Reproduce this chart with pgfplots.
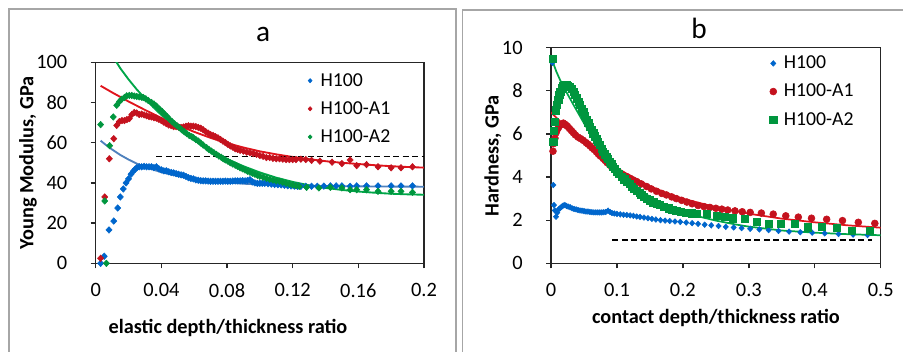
\documentclass[border=0pt]{standalone}
\usepackage{pgfplots}
\pgfplotsset{compat=1.18}
\usepackage{fontspec}
\setmainfont{Carlito}
\definecolor{cb}{RGB}{0,102,204}
\definecolor{cr}{RGB}{196,18,30}
\definecolor{cg}{RGB}{0,150,62}
\definecolor{fb}{RGB}{79,129,189}
\definecolor{fr}{RGB}{224,20,28}
\definecolor{fg}{RGB}{0,166,72}
\pgfplotsset{
  panel/.style={
    scale only axis,
    axis line style={black!85,line width=1.1pt},
    tick style={black!85,line width=1pt},
    major tick length=3.75pt,
    tick align=outside,
    xtick pos=bottom, ytick pos=left,
    /pgf/number format/assume math mode=true,
    tick label style={font=\fontsize{15.3}{18}\selectfont},
    yticklabel shift=14pt,
    xticklabel shift=8pt,
    label style={font=\fontsize{15.2}{18}\selectfont\bfseries},
    title style={font=\fontsize{22}{26}\selectfont},
    every axis title shift=0pt,
    legend cell align=left,
    legend style={draw=none,fill=none,font=\fontsize{14.8}{18}\selectfont,row sep=6pt,inner sep=0pt},
    legend image code/.code={\path (0cm,0cm) (0.3cm,0cm);\draw[mark repeat=2,mark phase=2] plot coordinates {(0cm,0cm)(0.1cm,0cm)(0.3cm,0cm)};},
    clip marker paths=false,
  },
  dia/.style={only marks, mark=diamond*, mark options={xscale=1.25}},
}
\begin{document}
\begin{tikzpicture}
\clip (0,0) rectangle (677.25pt,264pt);
\useasboundingbox (0,0) rectangle (677.25pt,264pt);
\draw[gray!70,line width=1.3pt] (6.75pt,-20pt) -- (6.75pt,257.25pt) -- (341.8pt,257.25pt) -- (341.8pt,-20pt);
\draw[gray!70,line width=1.3pt] (346.8pt,-20pt) -- (346.8pt,256.5pt) -- (700pt,256.5pt);

% ---------------- panel a ----------------
\begin{axis}[panel,
  at={(71.78pt,66.53pt)}, anchor=south west,
  width=246.2pt, height=150.75pt,
  xmin=0, xmax=0.2, ymin=0, ymax=100,
  xtick={0,0.04,0.08,0.12,0.16,0.2},
  xticklabels={0,0.04,0.08,0.12,0.16,0.2},
  ytick={0,20,40,60,80,100},
  title={a}, title style={at={(axis description cs:0.51,1.102)},anchor=base},
  xlabel={elastic depth/thickness ratio},
  xlabel style={at={(axis description cs:0.403,-0.322)},anchor=center},
  ylabel={Young Modulus, GPa},
  ylabel style={at={(axis description cs:-0.206,0.499)},anchor=center,rotate=0},
  legend style={at={(axis description cs:0.64,0.96)},anchor=north west},
  legend image post style={mark size=1.6pt},
]
\addplot[dia, mark size=2.45pt, color=cb] coordinates {
(0.003,0)(0.0052,3.5)(0.0081,16.6)(0.011,21)(0.0134,27.5)(0.015,33)(0.0168,37)(0.0185,40)(0.020,42)(0.0215,44.3)(0.0229,45.8)(0.024,46.8)(0.025,47.5)(0.0265,48)(0.028,48)(0.0295,48.2)(0.031,48)(0.0325,48)(0.034,48)(0.0355,47.6)(0.037,48)(0.0385,47)(0.040,46.5)(0.0415,46)(0.043,46)(0.0445,45.5)(0.046,45.2)(0.0475,45)(0.049,44.6)(0.0505,44.3)(0.052,44)(0.0535,43.8)(0.055,43.2)(0.0565,42.6)(0.058,42.2)(0.0595,42)(0.061,41.5)(0.0625,41.3)(0.064,41.1)(0.0655,41)(0.067,41)(0.0685,40.9)(0.070,40.8)(0.0715,40.8)(0.073,40.8)(0.0745,40.8)(0.076,40.8)(0.0775,40.8)(0.079,40.9)(0.0805,40.8)(0.082,40.8)(0.0835,40.9)(0.085,41)(0.0865,41)(0.088,41)(0.0895,41.1)(0.091,41)(0.0925,41.2)(0.094,41.6)(0.0955,40.5)(0.097,40)(0.0985,39.8)(0.100,39.8)(0.1015,39.8)(0.103,39.8)(0.105,39.6)(0.107,39.4)(0.109,39.2)(0.111,39.1)(0.113,39)(0.115,38.8)(0.117,38.6)(0.119,38.5)(0.121,38.4)(0.123,38.3)(0.125,38.3)(0.128,38.3)(0.1315,38.3)(0.135,38.3)(0.139,38.4)(0.143,38.5)(0.1465,38.5)(0.150,38.5)(0.155,38.3)(0.159,38.5)(0.165,38.5)(0.172,38.5)(0.180,38.5)(0.186,38.5)(0.193,38.5)};
\addlegendentry{H100}
\addplot[dia, mark size=2.45pt, color=cr] coordinates {
(0.003,2.5)(0.0055,33)(0.0083,52)(0.011,62)(0.0128,68.6)(0.0144,70.5)(0.016,71)(0.0175,71)(0.019,71.5)(0.0205,72)(0.022,74)(0.0235,75)(0.025,74.8)(0.0265,74)(0.028,74.2)(0.0295,73.8)(0.031,73.4)(0.0325,73)(0.034,72.8)(0.0355,72.4)(0.037,72.2)(0.0385,71.6)(0.040,71)(0.0415,70.2)(0.043,69.5)(0.0445,68.8)(0.046,68.5)(0.0475,68)(0.049,68)(0.0505,67.8)(0.052,67.6)(0.0535,67.8)(0.055,68.2)(0.0565,68.4)(0.058,68.2)(0.0595,68.2)(0.061,68)(0.0625,67.6)(0.064,67.2)(0.0655,66.4)(0.067,65.5)(0.0685,64.8)(0.070,64)(0.0715,63.6)(0.073,63)(0.0745,62.4)(0.076,61.6)(0.0775,60.8)(0.079,60)(0.0805,59.2)(0.082,58.4)(0.0835,57.8)(0.085,57)(0.0865,56.6)(0.088,56.2)(0.090,55.8)(0.092,55.3)(0.094,55)(0.096,54.6)(0.098,54.2)(0.100,53.6)(0.102,53.2)(0.104,52.6)(0.106,52.6)(0.108,52.2)(0.110,52)(0.112,52)(0.114,51.8)(0.116,51.6)(0.118,51.6)(0.120,51.6)(0.122,51.6)(0.125,51.8)(0.128,51.6)(0.1315,51.2)(0.1366,50.8)(0.144,50.3)(0.150,49.6)(0.155,51.4)(0.159,48.6)(0.165,49.1)(0.172,48)(0.180,47.5)(0.186,47.5)(0.193,48)};
\addlegendentry{H100-A1}
\addplot[dia, mark size=2.45pt, color=cg] coordinates {
(0.003,69)(0.0055,31)(0.0065,0)(0.0085,58.5)(0.0107,72.8)(0.0128,78.6)(0.0145,80.5)(0.0158,81.6)(0.0175,82.5)(0.0189,83.3)(0.0205,83.5)(0.022,83.5)(0.0235,83.2)(0.025,83)(0.0265,82.8)(0.028,82.6)(0.029,82.5)(0.0305,81.8)(0.032,81)(0.034,80)(0.0355,79.2)(0.037,78.2)(0.039,76.6)(0.0405,75.5)(0.042,74.2)(0.0435,73)(0.045,71.6)(0.0465,70.5)(0.048,69.4)(0.0495,68.4)(0.051,67.5)(0.0525,66.4)(0.054,65.4)(0.0555,64.5)(0.057,63.6)(0.0585,63)(0.0595,62.5)(0.061,61.6)(0.0625,60.8)(0.064,59.8)(0.0655,58.8)(0.0676,57.5)(0.069,56.6)(0.0705,55.8)(0.072,55)(0.0735,54.2)(0.075,53.4)(0.0765,52.7)(0.0777,52)(0.079,51.4)(0.0805,50.8)(0.082,50)(0.0835,49.4)(0.085,48.8)(0.0865,48.2)(0.088,47.5)(0.0895,47)(0.091,46.4)(0.0925,45.8)(0.094,45.3)(0.0955,44.8)(0.097,44.3)(0.0985,43.8)(0.100,43.3)(0.102,42.8)(0.104,42.3)(0.106,41.8)(0.108,41.4)(0.110,41)(0.112,40.8)(0.114,40.3)(0.116,39.8)(0.118,39.4)(0.120,39)(0.122,38.6)(0.124,38.3)(0.1285,37.8)(0.136,37.5)(0.143,37.8)(0.150,37.5)(0.155,36.6)(0.159,36.6)(0.165,36.6)(0.172,35.8)(0.180,35.8)(0.186,35.8)(0.193,35.3)};
\addlegendentry{H100-A2}
\addplot[forget plot, no marks, fb, line width=1.4pt] coordinates {
(0.003,61)(0.006,59)(0.01,56.6)(0.015,53.9)(0.02,51.6)(0.025,49.6)(0.03,47.9)(0.04,45.3)(0.05,43.4)(0.06,42)(0.07,41)(0.08,40.2)(0.09,39.6)(0.1,39.2)(0.12,38.7)(0.14,38.4)(0.17,38.2)(0.2,38.1)};
\addplot[forget plot, no marks, fr, line width=1.4pt] coordinates {
(0.003,88.3)(0.01,85)(0.02,80.5)(0.03,76.3)(0.04,72.3)(0.05,68.7)(0.06,65.4)(0.07,62.4)(0.08,59.8)(0.09,57.6)(0.10,55.7)(0.11,54.2)(0.12,52.9)(0.13,51.8)(0.14,50.8)(0.15,50)(0.16,49.4)(0.17,48.8)(0.18,48.3)(0.19,47.9)(0.20,47.6)};
\addplot[forget plot, no marks, fg, line width=1.4pt] coordinates {
(0.010,104)(0.0127,100)(0.015,97)(0.02,91.5)(0.025,86.5)(0.03,82)(0.035,77.7)(0.04,73.8)(0.05,67)(0.06,61.2)(0.07,56.2)(0.08,51.9)(0.09,48.3)(0.10,45.2)(0.11,42.6)(0.12,40.5)(0.13,38.8)(0.14,37.5)(0.15,36.5)(0.16,35.7)(0.17,35.1)(0.18,34.6)(0.19,34.3)(0.20,34.1)};
\addplot[forget plot, no marks, black, line width=0.8pt, dash pattern=on 4.5pt off 2.6pt] coordinates {(0.037,53)(0.2,53)};
\end{axis}

% ---------------- panel b ----------------
\begin{axis}[panel,
  at={(413.25pt,66.53pt)}, anchor=south west,
  width=247.3pt, height=161.7pt,
  xmin=0, xmax=0.5, ymin=0, ymax=10,
  xtick={0,0.1,0.2,0.3,0.4,0.5},
  xticklabels={0,0.1,0.2,0.3,0.4,0.5},
  ytick={0,2,4,6,8,10},
  title={b}, title style={at={(axis description cs:0.449,1.044)},anchor=base},
  xlabel={contact depth/thickness ratio},
  xlabel style={at={(axis description cs:0.5,-0.254)},anchor=center},
  ylabel={Hardness, GPa},
  ylabel style={at={(axis description cs:-0.176,0.498)},anchor=center,rotate=0},
  legend style={at={(axis description cs:0.661,0.975)},anchor=north west},
]
\addplot[forget plot, no marks, fr, line width=1.3pt] coordinates {
(0,7.0)(0.02,6.4)(0.05,5.6)(0.075,4.95)(0.1,4.42)(0.125,3.97)(0.15,3.58)(0.175,3.26)(0.2,3.0)(0.25,2.6)(0.3,2.3)(0.35,2.07)(0.4,1.9)(0.45,1.76)(0.5,1.65)};
\addplot[forget plot, no marks, fg, line width=1.3pt] coordinates {
(0.002,9.4)(0.008,8.9)(0.016,8.35)(0.025,7.85)(0.035,7.3)(0.05,6.5)(0.065,5.75)(0.08,5.1)(0.1,4.35)(0.12,3.75)(0.14,3.28)(0.16,2.9)(0.18,2.6)(0.2,2.38)(0.22,2.2)(0.25,1.98)(0.28,1.8)(0.3,1.7)(0.35,1.52)(0.4,1.42)(0.45,1.35)(0.5,1.3)};
\addplot[dia, mark size=2.1pt, color=cb] coordinates {
(0.002,9.3)(0.0035,3.63)(0.0045,2.7)(0.0058,2.45)(0.0076,2.16)(0.0095,2.35)(0.0115,2.5)(0.0136,2.55)(0.016,2.62)(0.0185,2.68)(0.021,2.7)(0.0235,2.66)(0.026,2.63)(0.029,2.6)(0.032,2.55)(0.035,2.52)(0.038,2.5)(0.041,2.47)(0.044,2.45)(0.047,2.44)(0.050,2.42)(0.053,2.4)(0.056,2.4)(0.059,2.38)(0.062,2.37)(0.065,2.36)(0.068,2.36)(0.071,2.36)(0.074,2.36)(0.077,2.36)(0.080,2.37)(0.083,2.38)(0.0865,2.44)(0.0895,2.38)(0.0925,2.33)(0.096,2.31)(0.100,2.29)(0.105,2.27)(0.110,2.25)(0.115,2.24)(0.120,2.22)(0.125,2.2)(0.130,2.17)(0.135,2.15)(0.141,2.12)(0.147,2.09)(0.153,2.06)(0.159,2.03)(0.166,2.0)(0.173,1.98)(0.18,1.96)(0.188,1.94)(0.196,1.92)(0.205,1.89)(0.214,1.86)(0.223,1.83)(0.233,1.79)(0.243,1.76)(0.254,1.73)(0.265,1.69)(0.277,1.66)(0.289,1.63)(0.302,1.6)(0.316,1.57)(0.33,1.54)(0.345,1.5)(0.361,1.47)(0.378,1.44)(0.396,1.42)(0.415,1.39)(0.436,1.36)(0.458,1.33)(0.48,1.31)};
\addlegendentry{H100}
\addplot[only marks, mark=*, mark size=2.6pt, color=cr] coordinates {
(0.003,5.2)(0.004,5.55)(0.006,5.8)(0.0076,6.05)(0.0095,6.2)(0.0115,6.3)(0.0135,6.4)(0.016,6.45)(0.0187,6.5)(0.021,6.45)(0.023,6.4)(0.025,6.35)(0.028,6.25)(0.031,6.15)(0.034,6.05)(0.037,5.95)(0.041,5.85)(0.045,5.78)(0.049,5.7)(0.053,5.6)(0.056,5.53)(0.059,5.45)(0.062,5.36)(0.065,5.28)(0.069,5.16)(0.072,5.06)(0.075,4.97)(0.079,4.86)(0.082,4.77)(0.085,4.67)(0.089,4.56)(0.092,4.47)(0.096,4.36)(0.0996,4.25)(0.104,4.18)(0.109,4.1)(0.115,4.02)(0.12,3.94)(0.125,3.86)(0.13,3.79)(0.137,3.68)(0.145,3.56)(0.152,3.45)(0.16,3.34)(0.168,3.24)(0.175,3.17)(0.183,3.08)(0.19,3.0)(0.198,2.92)(0.206,2.84)(0.214,2.76)(0.223,2.68)(0.232,2.63)(0.241,2.59)(0.25,2.55)(0.259,2.51)(0.268,2.47)(0.279,2.43)(0.29,2.39)(0.302,2.36)(0.319,2.33)(0.337,2.28)(0.356,2.2)(0.375,2.14)(0.395,2.09)(0.418,2.04)(0.442,1.98)(0.466,1.9)(0.491,1.85)};
\addlegendentry{H100-A1}
\addplot[only marks, mark=square*, mark size=2.7pt, color=cg] coordinates {
(0.0025,9.48)(0.0035,5.64)(0.0045,6.15)(0.006,6.57)(0.0076,7.1)(0.0093,7.35)(0.011,7.57)(0.0125,7.8)(0.014,7.96)(0.0163,8.12)(0.0187,8.22)(0.021,8.26)(0.023,8.27)(0.026,8.24)(0.029,8.19)(0.0315,8.08)(0.034,7.96)(0.0365,7.8)(0.039,7.65)(0.0415,7.5)(0.044,7.34)(0.0465,7.18)(0.049,7.03)(0.0515,6.84)(0.054,6.65)(0.0565,6.5)(0.059,6.34)(0.0615,6.18)(0.064,6.03)(0.0665,5.89)(0.069,5.75)(0.0715,5.62)(0.074,5.49)(0.0765,5.33)(0.079,5.18)(0.0815,5.06)(0.084,4.95)(0.0865,4.83)(0.089,4.71)(0.0915,4.6)(0.094,4.48)(0.097,4.37)(0.0996,4.25)(0.103,4.14)(0.107,4.02)(0.111,3.9)(0.115,3.79)(0.119,3.67)(0.122,3.56)(0.126,3.47)(0.13,3.37)(0.134,3.27)(0.137,3.17)(0.141,3.09)(0.145,3.01)(0.15,2.92)(0.155,2.83)(0.16,2.76)(0.165,2.7)(0.171,2.62)(0.178,2.55)(0.184,2.5)(0.19,2.44)(0.197,2.39)(0.205,2.35)(0.213,2.32)(0.221,2.29)(0.236,2.3)(0.251,2.22)(0.263,2.17)(0.276,2.09)(0.294,2.05)(0.312,1.93)(0.33,1.85)(0.349,1.82)(0.37,1.83)(0.389,1.67)(0.41,1.7)(0.433,1.65)(0.456,1.52)(0.483,1.5)};
\addlegendentry{H100-A2}
\addplot[forget plot, no marks, black, line width=0.8pt, dash pattern=on 4.5pt off 2.6pt] coordinates {(0.093,1.08)(0.486,1.08)};
\end{axis}
\end{tikzpicture}
\end{document}
